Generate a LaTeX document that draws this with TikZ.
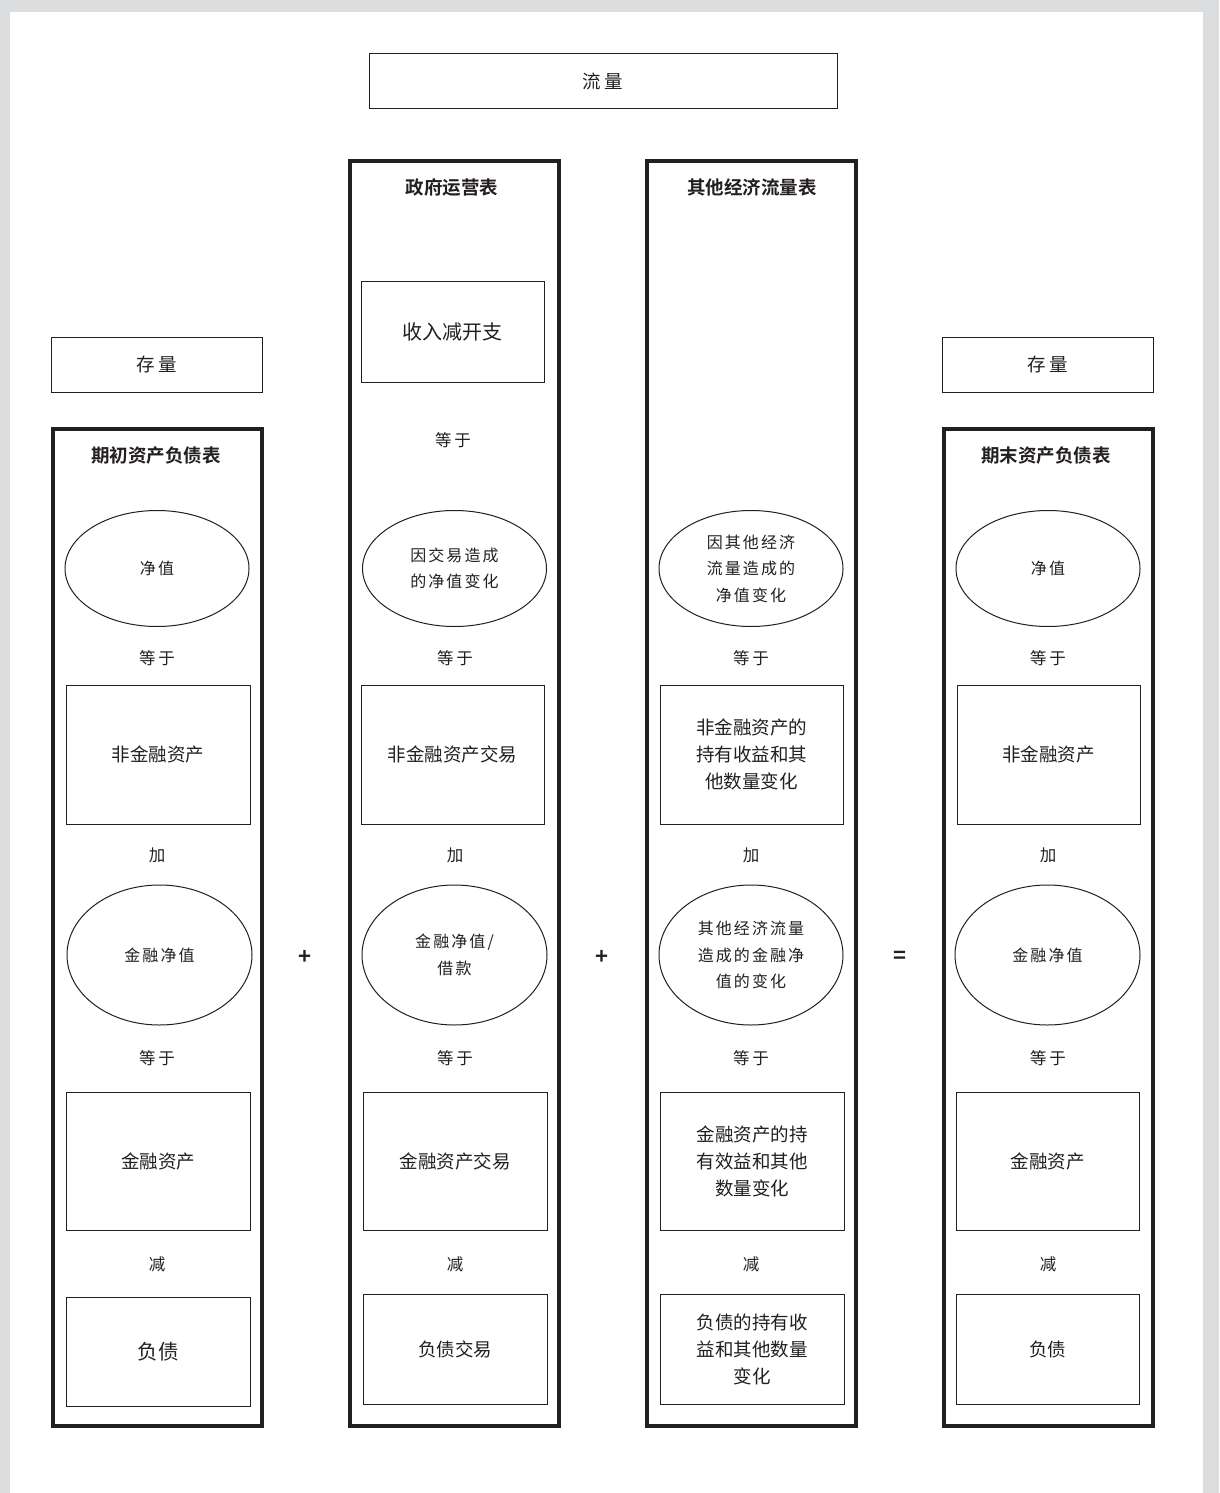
\documentclass[tikz,border=0pt]{standalone}
\usepackage{fontspec}
\setmainfont{Noto Sans CJK SC}[BoldFont={Noto Sans CJK SC Bold}]
\newfontfamily\spacedcjk{Noto Sans CJK SC}[LetterSpace=13]
\usetikzlibrary{shapes.geometric}
\definecolor{ink}{HTML}{231F20}
\definecolor{bggrey}{HTML}{DCDDDF}
\tikzset{
  thinbox/.style={draw=ink, line width=1pt, inner sep=0pt, align=center, text=ink, font=\fontsize{18.5}{27}\selectfont},
  colbox/.style={draw=ink, line width=4pt, inner sep=0pt},
  oval/.style={ellipse, draw=ink, line width=1pt, inner sep=0pt, align=center, text=ink, font=\spacedcjk\fontsize{16}{26.5}\selectfont, minimum width=184pt},
  word/.style={inner sep=0pt, text=ink, font=\fontsize{16.5}{20}\selectfont},
  title/.style={inner sep=0pt, text=ink, font=\fontsize{18.5}{22}\selectfont\bfseries},
  sign/.style={inner sep=0pt, text=ink, font=\fontsize{22}{24}\selectfont\bfseries}
}
\begin{document}
\begin{tikzpicture}[x=1pt,y=-1pt]
\useasboundingbox (0,0) rectangle (1219,1493);
\fill[bggrey] (0,0) rectangle (1219,1493);
\fill[white] (10,12) rectangle (1203,1493);

% top flow label
\node[thinbox, minimum width=468pt, minimum height=55pt] (flow) at (603,81.5) {流\,量};

% stock labels
\node[thinbox, minimum width=211pt, minimum height=55pt] (stockL) at (156.5,364.5) {存\,量};
\node[thinbox, minimum width=211pt, minimum height=55pt] (stockR) at (1047.5,364.5) {存\,量};

% column frames
\node[colbox, minimum width=209pt, minimum height=997pt] (col1) at (157.5,927.5) {};
\node[colbox, minimum width=209pt, minimum height=1265pt] (col2) at (454.5,793.5) {};
\node[colbox, minimum width=209pt, minimum height=1265pt] (col3) at (751.5,793.5) {};
\node[colbox, minimum width=209pt, minimum height=997pt] (col4) at (1048.5,927.5) {};

% titles
\node[title] (t1) at (156,456) {期初资产负债表};
\node[title] (t2) at (452,187) {政府运营表};
\node[title] (t3) at (752,187) {其他经济流量表};
\node[title] (t4) at (1046,456) {期末资产负债表};

% column 2 top box
\node[thinbox, minimum width=183pt, minimum height=101pt, font=\fontsize{20}{24}\selectfont] (c2top) at (452.5,331.5) {收入减开支};
\node[word] (c2eq0) at (453,440) {等\,于};

% row 1 ellipses
\node[oval, minimum height=116pt] (c1e1) at (157,568.5) {净值};
\node[oval, minimum height=116pt] (c2e1) at (454.5,568.5) {因交易造成\\的净值变化};
\node[oval, minimum height=116pt] (c3e1) at (751,568.5) {因其他经济\\流量造成的\\净值变化};
\node[oval, minimum height=116pt] (c4e1) at (1048,568.5) {净值};

% equals labels row 1
\node[word] (c1eq1) at (157,658) {等\,于};
\node[word] (c2eq1) at (455,658) {等\,于};
\node[word] (c3eq1) at (751,658) {等\,于};
\node[word] (c4eq1) at (1048,658) {等\,于};

% row 2 rectangles
\node[thinbox, minimum width=184pt, minimum height=139pt] (c1r2) at (158,754.5) {非金融资产};
\node[thinbox, minimum width=183pt, minimum height=139pt] (c2r2) at (452.5,754.5) {非金融资产交易};
\node[thinbox, minimum width=183pt, minimum height=139pt] (c3r2) at (751.5,754.5) {非金融资产的\\持有收益和其\\他数量变化};
\node[thinbox, minimum width=183pt, minimum height=139pt] (c4r2) at (1048.5,754.5) {非金融资产};

% plus labels
\node[word] (c1add) at (157,855) {加};
\node[word] (c2add) at (455,855) {加};
\node[word] (c3add) at (751,855) {加};
\node[word] (c4add) at (1048,855) {加};

% row 2 ellipses
\node[oval, minimum height=140pt, minimum width=185pt] (c1e2) at (159.5,955) {金融净值};
\node[oval, minimum height=140pt, minimum width=185pt] (c2e2) at (454.5,955) {金融净值/\\借款};
\node[oval, minimum height=140pt] (c3e2) at (751,955) {其他经济流量\\造成的金融净\\值的变化};
\node[oval, minimum height=140pt, minimum width=185pt] (c4e2) at (1047.5,955) {金融净值};

% operators between columns
\node[sign] (plus1) at (305,957) {+};
\node[sign] (plus2) at (602,957) {+};
\node[sign] (equal) at (900,957) {=};

% equals labels row 2
\node[word] (c1eq2) at (157,1058) {等\,于};
\node[word] (c2eq2) at (455,1058) {等\,于};
\node[word] (c3eq2) at (751,1058) {等\,于};
\node[word] (c4eq2) at (1048,1058) {等\,于};

% row 3 rectangles
\node[thinbox, minimum width=184pt, minimum height=138pt] (c1r3) at (158,1161) {金融资产};
\node[thinbox, minimum width=184pt, minimum height=138pt] (c2r3) at (455,1161) {金融资产交易};
\node[thinbox, minimum width=184pt, minimum height=138pt] (c3r3) at (752,1161) {金融资产的持\\有效益和其他\\数量变化};
\node[thinbox, minimum width=183pt, minimum height=138pt] (c4r3) at (1047.5,1161) {金融资产};

% minus labels
\node[word] (c1sub) at (157,1264) {减};
\node[word] (c2sub) at (455,1264) {减};
\node[word] (c3sub) at (751,1264) {减};
\node[word] (c4sub) at (1048,1264) {减};

% row 4 rectangles
\node[thinbox, minimum width=184pt, minimum height=109pt, font=\fontsize{20.5}{24}\selectfont] (c1r4) at (158,1351.5) {负债};
\node[thinbox, minimum width=184pt, minimum height=110pt] (c2r4) at (455,1349) {负债交易};
\node[thinbox, minimum width=184pt, minimum height=110pt] (c3r4) at (752,1349) {负债的持有收\\益和其他数量\\变化};
\node[thinbox, minimum width=183pt, minimum height=110pt] (c4r4) at (1047.5,1349) {负债};
\end{tikzpicture}
\end{document}
